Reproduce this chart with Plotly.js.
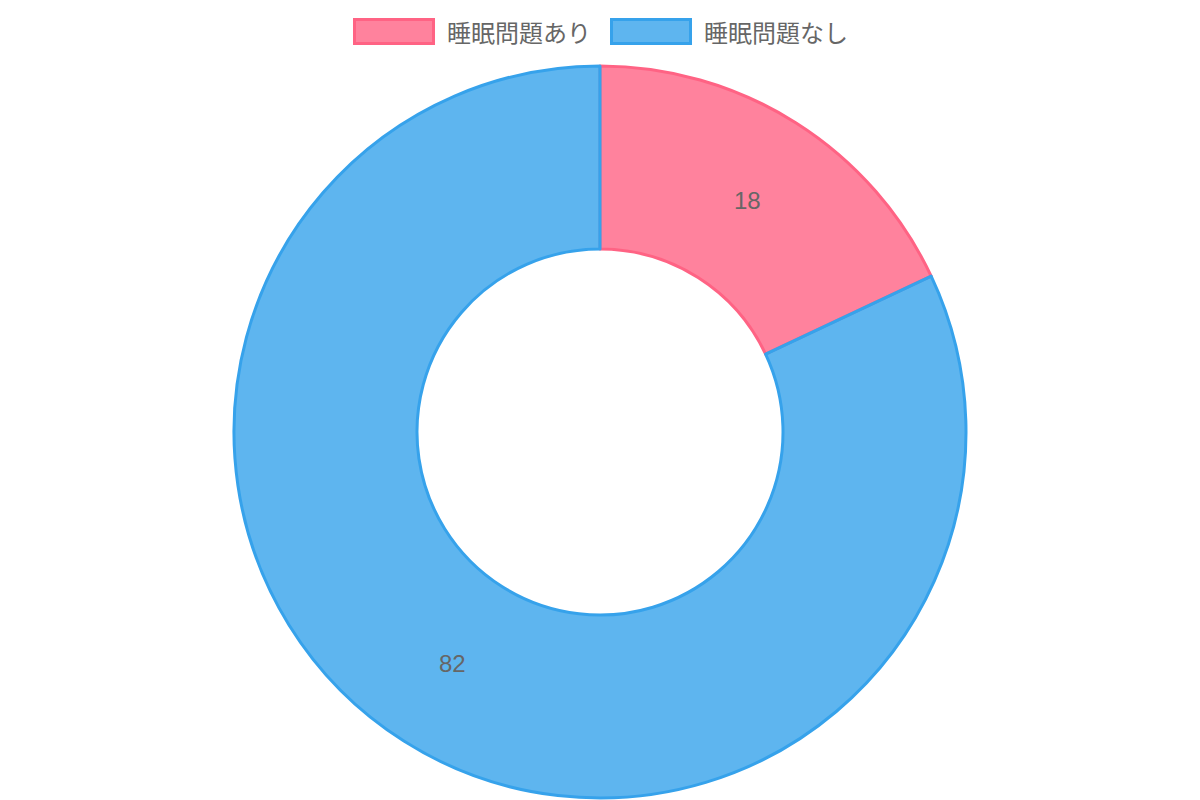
<!DOCTYPE html>
<html>
<head>
<meta charset="utf-8">
<script src="https://cdn.plot.ly/plotly-3.0.1.min.js"></script>
<style>html,body{margin:0;padding:0;background:#fff;}#chart{width:1200px;height:800px;}</style>
</head>
<body>
<div id="chart"></div>
<script>
const labels = ["睡眠問題あり", "睡眠問題なし"];
const values = [18, 82];
const fillColors = ["rgba(255,99,132,0.8)", "rgba(54,162,235,0.8)"];
const borderColors = ["#FF6384", "#36A2EB"];

const W = 1200, H = 800;
const FONT = "Liberation Sans, Arial, Noto Sans CJK JP, sans-serif";
const FONT_SIZE = 24;
const HOLE = 0.5;
const domainY = [0.0025, 0.9175];

const trace = {
  type: "pie",
  labels: labels,
  values: values,
  hole: HOLE,
  sort: false,
  direction: "clockwise",
  rotation: 0,
  textinfo: "none",
  marker: {colors: fillColors, line: {color: borderColors, width: 3}},
  domain: {x: [0, 1], y: domainY},
  showlegend: false,
  hoverinfo: "label+value"
};

const shapes = [];
const annotations = [];

// value labels at the middle of each ring segment (derived from the values)
const totalVal = values.reduce((a, b) => a + b, 0);
const rOuter = (domainY[1] - domainY[0]) * H / 2;
const rMid = rOuter * (1 + HOLE) / 2;
const cxPx = W / 2;
const cyPx = H * (1 - (domainY[0] + domainY[1]) / 2);
let cum = 0;
values.forEach((v) => {
  const mid = (cum + v / 2) / totalVal;
  cum += v;
  const th = 2 * Math.PI * mid;
  const px = cxPx + rMid * Math.sin(th);
  const py = cyPx - rMid * Math.cos(th);
  annotations.push({
    xref: "paper", yref: "paper", x: px / W, y: 1 - py / H,
    xanchor: "center", yanchor: "middle", showarrow: false,
    text: String(v), font: {family: FONT, size: FONT_SIZE, color: "#666666"}
  });
});

// custom legend (Chart.js-like wide boxes)
const boxOuterW = 82, boxOuterH = 27, border = 3, gap = 11, itemGap = 20;
const textWidths = labels.map(l => l.length * FONT_SIZE);
const totalW = labels.reduce((s, l, i) => s + boxOuterW + gap + textWidths[i], 0) + itemGap * (labels.length - 1);
let x = W / 2 - totalW / 2;
const yc = 31.5;
labels.forEach((l, i) => {
  shapes.push({
    type: "rect", xref: "paper", yref: "paper",
    x0: (x + border / 2) / W, x1: (x + boxOuterW - border / 2) / W,
    y0: 1 - (yc + (boxOuterH - border) / 2) / H, y1: 1 - (yc - (boxOuterH - border) / 2) / H,
    fillcolor: fillColors[i], line: {color: borderColors[i], width: border}
  });
  annotations.push({
    xref: "paper", yref: "paper", x: (x + boxOuterW + gap - 1) / W, y: 1 - yc / H,
    xanchor: "left", yanchor: "middle", showarrow: false,
    text: l, font: {family: "Noto Sans CJK JP, sans-serif", size: FONT_SIZE, color: "#666666"}
  });
  x += boxOuterW + gap + textWidths[i] + itemGap;
});

const layout = {
  width: W, height: H,
  margin: {l: 0, r: 0, t: 0, b: 0},
  paper_bgcolor: "#ffffff",
  font: {family: FONT, size: 16, color: "#666666"},
  shapes: shapes,
  annotations: annotations
};

Plotly.newPlot("chart", [trace], layout, {displayModeBar: false, staticPlot: true});
</script>
</body>
</html>
